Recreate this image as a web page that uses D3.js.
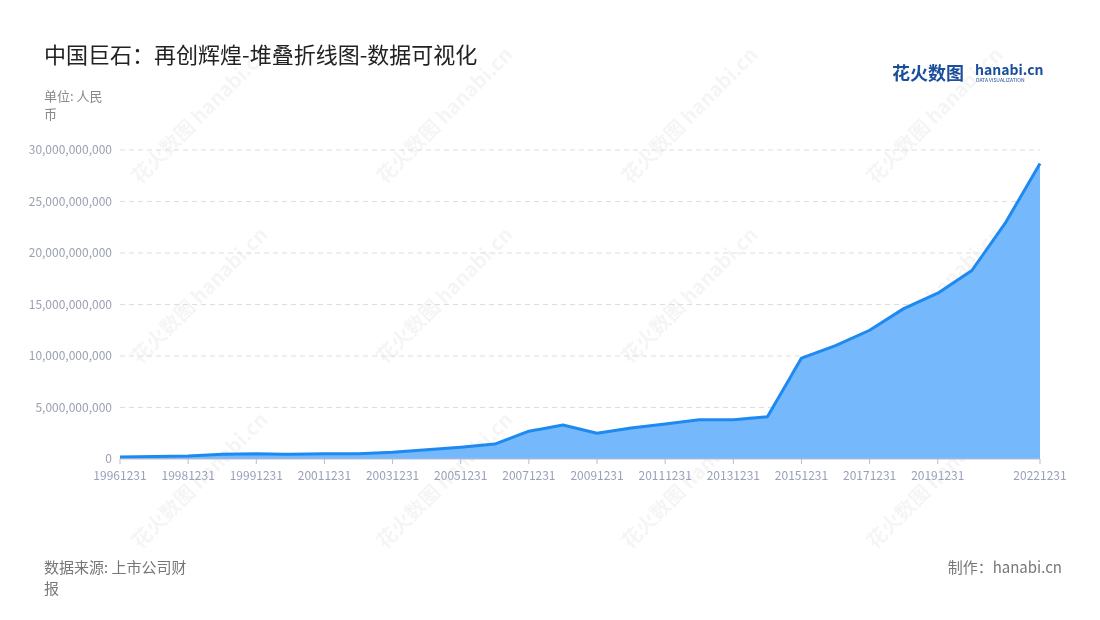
<!DOCTYPE html>
<html><head><meta charset="utf-8">
<script src="https://cdn.jsdelivr.net/npm/d3@7"></script>
<style>body{margin:0;background:#fff;font-family:"Noto Sans CJK SC","Noto Sans",sans-serif}</style>
</head><body><svg id="c" width="1100" height="620"></svg>
<script>
const categories=["19961231","19971231","19981231","19990630","19991231","20001231","20011231","20021231","20031231","20041231","20051231","20061231","20071231","20081231","20091231","20101231","20111231","20121231","20131231","20141231","20151231","20161231","20171231","20181231","20191231","20201231","20211231","20221231"];
const values=[0.2,0.25,0.3,0.45,0.5,0.45,0.5,0.5,0.65,0.9,1.15,1.45,2.7,3.3,2.5,3.0,3.4,3.8,3.8,4.1,9.8,11.0,12.5,14.6,16.1,18.3,23.0,28.7].map(v=>v*1e9);
const tickLabels=["19961231","19981231","19991231","20011231","20031231","20051231","20071231","20091231","20111231","20131231","20151231","20171231","20191231","20221231"];
const yTicks=[0,5e9,10e9,15e9,20e9,25e9,30e9];

const svg=d3.select("#c");
const L=120,R=1040,T=150,B=459;
const x=d3.scalePoint().domain(categories).range([L,R]);
const y=d3.scaleLinear().domain([0,30e9]).range([B,T]);

const wm=svg.append("g").attr("fill","#000").attr("opacity",0.04).attr("font-size",20).attr("font-weight","bold");
for(const [wx,wy] of [[140,185],[385,185],[630,185],[875,185],[140,365],[385,365],[630,365],[875,365],[140,550],[385,550],[630,550],[875,550]]){
  wm.append("text").attr("transform",`translate(${wx},${wy}) rotate(-45)`).text("花火数图 hanabi.cn");
}

svg.append("g").selectAll("line").data(yTicks.slice(1)).join("line")
 .attr("x1",L).attr("x2",R).attr("y1",d=>y(d)).attr("y2",d=>y(d))
 .attr("stroke","#ddd").attr("stroke-dasharray","5,4");
svg.append("g").selectAll("text").data(yTicks).join("text")
 .attr("x",L-8).attr("y",d=>y(d)+4).attr("text-anchor","end").attr("font-size",12).attr("fill","#9aa0b0")
 .text(d=>d3.format(",")(d));

svg.append("path").datum(values).attr("fill","#75b8fb")
 .attr("d",d3.area().x((d,i)=>x(categories[i])).y0(B).y1(d=>y(d)));
svg.append("path").datum(values).attr("fill","none").attr("stroke","#1e8af0").attr("stroke-width",3).attr("stroke-linejoin","round")
 .attr("d",d3.line().x((d,i)=>x(categories[i])).y(d=>y(d)));

svg.append("line").attr("x1",L).attr("x2",R).attr("y1",B).attr("y2",B).attr("stroke","#bbc");
const xt=svg.append("g").selectAll("g").data(tickLabels).join("g").attr("transform",d=>`translate(${x(d)},${B})`);
xt.append("line").attr("y2",5).attr("stroke","#bbc");
xt.append("text").attr("y",21).attr("text-anchor","middle").attr("font-size",12).attr("fill","#9aa0b8").text(d=>d);

svg.append("text").attr("x",44).attr("y",63).attr("font-size",22).attr("fill","#222").text("中国巨石：再创辉煌-堆叠折线图-数据可视化");
svg.append("text").attr("x",44).attr("y",101).attr("font-size",13).attr("fill","#888").text("单位: 人民");
svg.append("text").attr("x",44).attr("y",119).attr("font-size",13).attr("fill","#888").text("币");
svg.append("text").attr("x",44).attr("y",573).attr("font-size",15).attr("fill","#777").text("数据来源: 上市公司财");
svg.append("text").attr("x",44).attr("y",594).attr("font-size",15).attr("fill","#777").text("报");
svg.append("text").attr("x",1062).attr("y",573).attr("text-anchor","end").attr("font-size",15).attr("fill","#777").text("制作：hanabi.cn");
svg.append("text").attr("x",892).attr("y",80).attr("font-size",18).attr("font-weight","bold").attr("fill","#1b4e9b").text("花火数图");
svg.append("text").attr("x",975).attr("y",75).attr("font-size",14).attr("font-weight","bold").attr("fill","#1b4e9b").text("hanabi.cn");
svg.append("text").attr("x",976).attr("y",82).attr("font-size",5).attr("fill","#1b4e9b").text("DATA VISUALIZATION");
</script></body></html>
